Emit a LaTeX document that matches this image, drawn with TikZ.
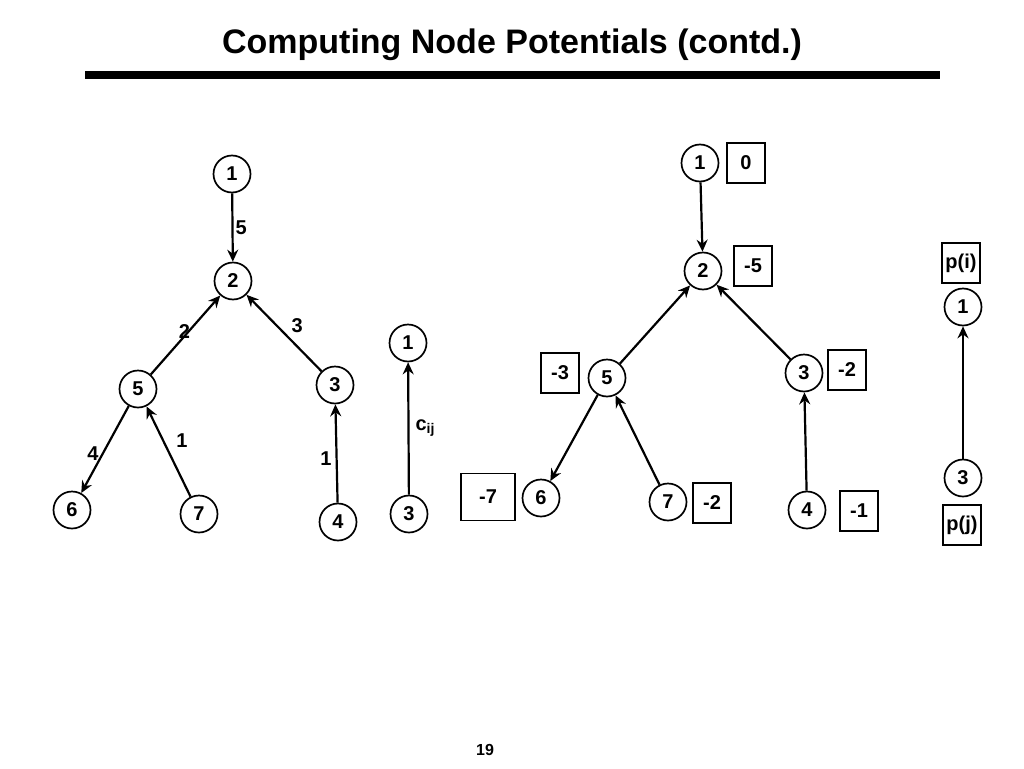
\documentclass[tikz,border=0pt]{standalone}
\usepackage{fontspec}
\setmainfont{Liberation Sans}
\usetikzlibrary{arrows.meta, positioning, calc}

\begin{document}
\begin{tikzpicture}[x=1pt, y=-1pt,
  vertex/.style={circle, draw, line width=1.7pt, minimum size=37pt, inner sep=0pt, font=\fontsize{20}{20}\selectfont\bfseries},
  potbox/.style={rectangle, draw, line width=1.7pt, minimum width=38pt, minimum height=40pt, inner sep=0pt, font=\fontsize{20}{20}\selectfont\bfseries},
  arc/.style={line width=2.2pt, -{Stealth[length=12pt, width=11pt, inset=4pt]}},
  cost/.style={font=\fontsize{20}{20}\selectfont\bfseries, inner sep=2pt}]
\useasboundingbox (0,0) rectangle (1024,768);
% Title
\node[font=\fontsize{34}{34}\selectfont\bfseries] (title) at (512,45) {Computing Node Potentials (contd.)};
\fill (85,71) rectangle (940,79);
% Left tree
\node[vertex] (a1) at (232,174) {1};
\node[vertex] (a2) at (233,281) {2};
\node[vertex] (a5) at (138,389) {5};
\node[vertex] (a3) at (335,385) {3};
\node[vertex] (a6) at (72,510) {6};
\node[vertex] (a7) at (199,514) {7};
\node[vertex] (a4) at (338,522) {4};
\draw[arc] (a1) -- node[cost, right] {5} (a2);
\draw[arc] (a5) -- node[cost, pos=0.55, left=-4pt] {2} (a2);
\draw[arc] (a3) -- node[cost, pos=0.6, right=12pt] {3} (a2);
\draw[arc] (a5) -- node[cost, pos=0.55, left=1pt] {4} (a6);
\draw[arc] (a7) -- node[cost, pos=0.62, right=10pt] {1} (a5);
\draw[arc] (a4) -- node[cost, pos=0.45, left=2pt] {1} (a3);
% Legend arc
\node[vertex] (b1) at (408,343) {1};
\node[vertex] (b3) at (409,514) {3};
\draw[arc] (b3) -- node[cost, right=4pt] {c\textsubscript{ij}} (b1);
% Right tree with potentials
\node[vertex] (c1) at (700,163) {1};
\node[vertex] (c2) at (703,271) {2};
\node[vertex] (c5) at (607,378) {5};
\node[vertex] (c3) at (804,373) {3};
\node[vertex] (c6) at (541,498) {6};
\node[vertex] (c7) at (668,502) {7};
\node[vertex] (c4) at (807,510) {4};
\draw[arc] (c1) -- (c2);
\draw[arc] (c5) -- (c2);
\draw[arc] (c3) -- (c2);
\draw[arc] (c5) -- (c6);
\draw[arc] (c7) -- (c5);
\draw[arc] (c4) -- (c3);
\node[potbox] (p1) at (746,163) {0};
\node[potbox] (p2) at (753,266) {-5};
\node[potbox] (p5) at (560,373) {-3};
\node[potbox] (p3) at (847,370) {-2};
\node[potbox, minimum width=54pt, minimum height=47pt] (p6) at (488,497) {-7};
\node[potbox] (p7) at (712,503) {-2};
\node[potbox] (p4) at (859,511) {-1};
% Legend potentials
\node[vertex] (d1) at (963,307) {1};
\node[vertex] (d3) at (963,478) {3};
\draw[arc] (d3) -- (d1);
\node[potbox] (pi) at (961,263) {p(i)};
\node[potbox] (pj) at (962,525) {p(j)};
% Page number
\node[font=\fontsize{16}{16}\selectfont\bfseries] (page) at (485,750) {19};
\end{tikzpicture}
\end{document}
